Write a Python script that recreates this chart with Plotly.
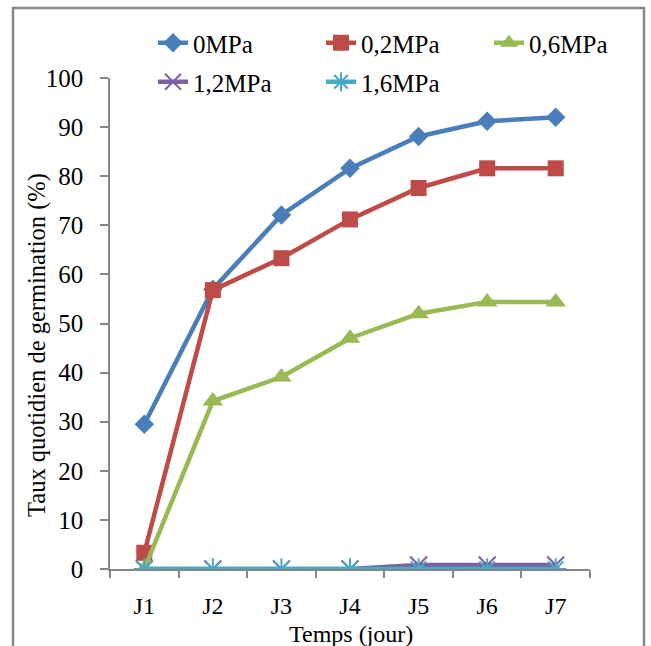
import plotly.graph_objects as go

days = ["J1", "J2", "J3", "J4", "J5", "J6", "J7"]
series_names = ["0MPa", "0,2MPa", "0,6MPa", "1,2MPa", "1,6MPa"]
v_0 = [29.5, 57.0, 72.1, 81.6, 88.1, 91.2, 92.0]
v_02 = [3.3, 56.8, 63.3, 71.2, 77.6, 81.6, 81.6]
v_06 = [0.0, 34.2, 39.1, 47.0, 52.0, 54.4, 54.4]
v_12 = [0.0, 0.0, 0.0, 0.0, 0.8, 0.8, 0.8]
v_16 = [0.0, 0.0, 0.0, 0.0, 0.0, 0.0, 0.0]
y_ticks = [0, 10, 20, 30, 40, 50, 60, 70, 80, 90, 100]

colors = ["#4A7EBB", "#BE4B48", "#98B954", "#7D60A0", "#46AAC5"]
symbols = ["diamond", "square", "triangle-up", "x-thin", "asterisk"]
sizes = [15, 16, 18, 17, 18]
values = [v_0, v_02, v_06, v_12, v_16]

FONT = "Liberation Serif"
FS = 25

# plot area in px
L, R, T, B = 110, 61, 78, 77
W, H = 651, 646
pw, ph = W - L - R, H - T - B

def px_x(x):
    return (x - L) / pw

def px_y(y):
    return (H - B - y) / ph

# legend positions (left x, row centre y)
leg_pos = [(153, 43), (321, 43), (489, 43), (153, 82), (321, 82)]

fig = go.Figure()
for i, (name, vals) in enumerate(zip(series_names, values)):
    lname = "legend" if i == 0 else f"legend{i+1}"
    sym = symbols[i]
    marker = dict(symbol=sym, size=sizes[i], color=colors[i])
    if sym in ("x-thin", "asterisk"):
        marker["line"] = dict(color=colors[i], width=2)
    fig.add_trace(go.Scatter(
        x=days, y=vals, name=name, mode="lines+markers",
        line=dict(color=colors[i], width=4.5),
        marker=marker,
        legend=lname,
    ))

legend_common = dict(
    orientation="h", xanchor="left", yanchor="middle",
    font=dict(family=FONT, size=FS, color="black"),
    bgcolor="rgba(0,0,0,0)", borderwidth=0,
)
layout_legends = {}
for i, (lx, ly) in enumerate(leg_pos):
    key = "legend" if i == 0 else f"legend{i+1}"
    layout_legends[key] = dict(legend_common, x=px_x(lx), y=px_y(ly))

fig.update_layout(
    width=W, height=H,
    margin=dict(l=L, r=R, t=T, b=B),
    paper_bgcolor="white", plot_bgcolor="white",
    showlegend=True,
    font=dict(family=FONT, size=FS, color="black"),
    xaxis=dict(
        type="category", tickson="boundaries", range=[-0.5, 6.5],
        showline=True, linecolor="#868686", linewidth=1.5,
        ticks="outside", ticklen=7, tickcolor="#868686", tickwidth=1.5,
        showgrid=False, zeroline=False,
        ticklabelstandoff=14,
        tickfont=dict(family=FONT, size=24, color="black"),
    ),
    yaxis=dict(
        range=[0, 100], tickvals=y_ticks,
        showline=True, linecolor="#868686", linewidth=1.5,
        ticks="outside", ticklen=8, tickcolor="#868686", tickwidth=1.5,
        showgrid=False, zeroline=False,
        ticklabelstandoff=12,
        tickfont=dict(family=FONT, size=FS, color="black"),
    ),
    annotations=[
        dict(text="Taux quotidien de germination (%)", textangle=-90,
             xref="paper", yref="paper", x=px_x(37), y=px_y(345),
             xanchor="center", yanchor="middle", showarrow=False,
             font=dict(family=FONT, size=24.5, color="black")),
        dict(text="Temps (jour)", xref="paper", yref="paper",
             x=px_x(351), y=px_y(634), xanchor="center", yanchor="middle",
             showarrow=False, font=dict(family=FONT, size=24, color="black")),
    ],
    shapes=[
        dict(type="rect", xref="paper", yref="paper",
             x0=px_x(13), x1=px_x(644), y0=px_y(652), y1=px_y(8),
             line=dict(color="#888888", width=2.5), fillcolor="rgba(0,0,0,0)",
             layer="below"),
    ],
    **layout_legends,
)

fig.write_html("out.html")
